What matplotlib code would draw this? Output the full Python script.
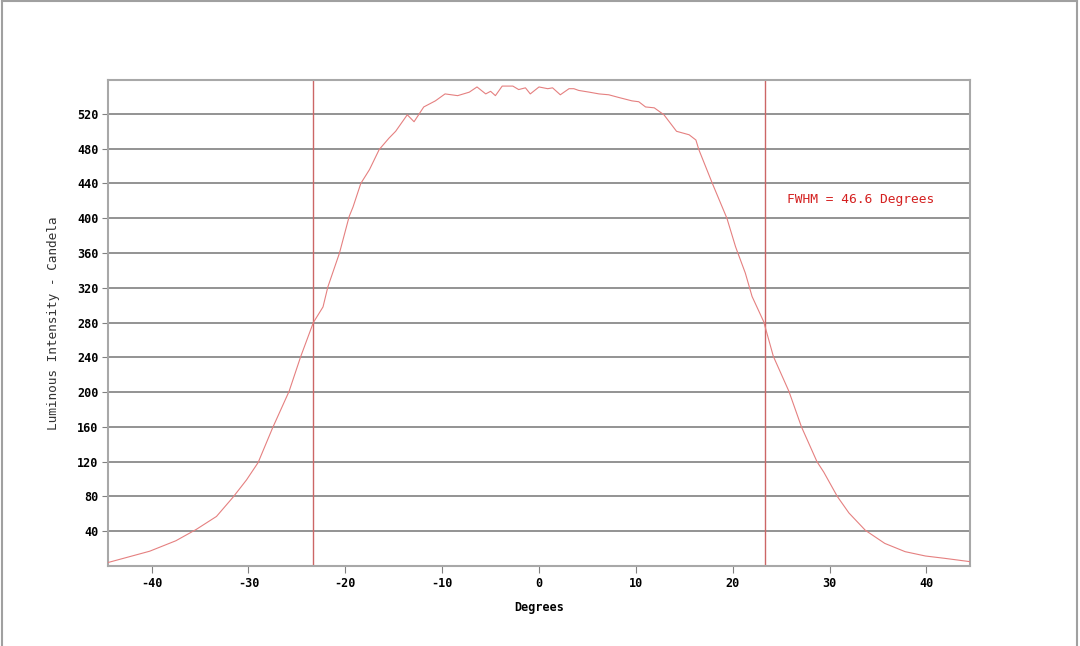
import numpy as np
import matplotlib.pyplot as plt
from matplotlib.lines import Line2D

# beam profile
degrees = [-44.5, -40.2, -37.5, -35.4, -33.3, -31.6, -30.2, -29.0, -27.5, -25.8,
           -24.6, -23.3, -22.3, -21.8, -20.6, -19.6, -19.2, -18.4, -17.5, -16.5,
           -15.5, -14.8, -13.6, -12.9, -11.9, -10.7, -9.7, -8.4, -7.2, -6.4,
           -5.5, -5.0, -4.5, -3.8, -2.7, -2.1, -1.4, -0.9, 0.0, 0.9,
           1.4, 2.2, 3.1, 3.6, 4.1, 5.2, 6.2, 7.2, 8.2, 9.6,
           10.3, 11.0, 11.9, 12.9, 14.2, 15.5, 16.2, 16.5, 17.9, 19.4,
           20.3, 21.3, 22.0, 23.2, 24.2, 25.8, 27.1, 28.7, 29.4, 30.8,
           32.0, 33.7, 35.7, 37.8, 39.9, 41.9, 44.5]
intensity = [4, 17, 29, 42, 57, 79, 99, 119, 159, 201,
             241, 280, 298, 321, 360, 402, 413, 440, 456, 479,
             492, 500, 519, 511, 528, 535, 543, 541, 545, 551,
             543, 546, 541, 552, 552, 548, 550, 543, 551, 549,
             550, 542, 549, 549, 547, 545, 543, 542, 539, 535,
             534, 528, 527, 519, 500, 496, 490, 479, 440, 400,
             367, 337, 310, 281, 241, 201, 160, 120, 108, 80,
             61, 41, 26, 16.5, 11.5, 8.8, 5]
fwhm_edges = [-23.3, 23.3]
fwhm_text = "FWHM = 46.6 Degrees"

xticks = [-40, -30, -20, -10, 0, 10, 20, 30, 40]
yticks = list(range(40, 521, 40))

mono = "DejaVu Sans Mono"

fig = plt.figure(figsize=(10.8, 6.46), dpi=100)
fig.patch.set_facecolor("white")
ax = fig.add_axes([108 / 1080, 80 / 646, 862 / 1080, 486 / 646])

for y in yticks:
    ax.axhline(y, color="#808080", lw=1.2, zorder=1)
for x in fwhm_edges:
    ax.axvline(x, color="#cc6666", lw=1.0, zorder=2)

ax.plot(degrees, intensity, color="#e58080", lw=0.8, zorder=3)

ax.text(25.6, 421, fwhm_text, color="#d42020", fontsize=9.3, family=mono,
        va="center", ha="left")

ax.set_xlim(-44.5, 44.5)
ax.set_ylim(0, 559)
ax.set_xticks(xticks)
ax.set_yticks(yticks)
ax.set_xticklabels([str(v) for v in xticks], family=mono, fontsize=8.5, fontweight="bold")
ax.set_yticklabels([str(v) for v in yticks], family=mono, fontsize=8.5, fontweight="bold")
ax.tick_params(axis="x", length=5, color="#808080", pad=3)
ax.tick_params(axis="y", length=4, color="#808080", pad=3)
for s in ax.spines.values():
    s.set_color("#a8a8a8")
    s.set_linewidth(1.5)

ax.set_xlabel("Degrees", family=mono, fontsize=8.5, fontweight="bold", labelpad=8)
ax.set_ylabel("Luminous Intensity - Candela", family=mono, fontsize=9.2,
              color="#333333", labelpad=12)

# grey outer frame
fig.add_artist(Line2D([0.002, 0.002], [0, 0.998], transform=fig.transFigure, color="#a0a0a0", lw=1.5))
fig.add_artist(Line2D([0.997, 0.997], [0, 0.998], transform=fig.transFigure, color="#a0a0a0", lw=1.5))
fig.add_artist(Line2D([0.002, 0.997], [0.998, 0.998], transform=fig.transFigure, color="#a0a0a0", lw=1.5))

fig.savefig("out.png", dpi=100)
